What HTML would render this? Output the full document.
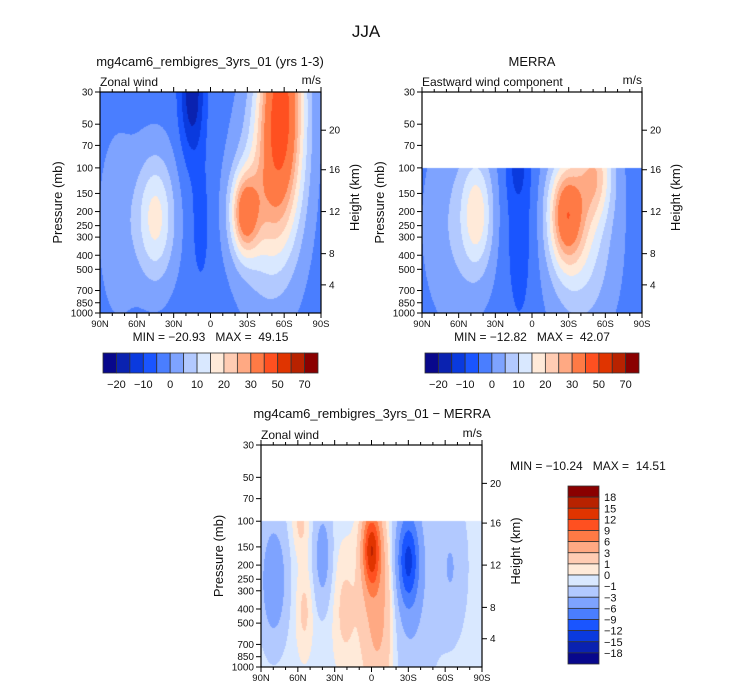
<!DOCTYPE html>
<html><head><meta charset="utf-8">
<style>
body{margin:0;background:#fff;}
#wrap{position:relative;width:732px;height:690px;overflow:hidden;font-family:"Liberation Sans",sans-serif;}
canvas{position:absolute;}
svg{position:absolute;left:0;top:0;}
text{font-family:"Liberation Sans",sans-serif;fill:#111;white-space:pre;}
</style></head>
<body>
<div id="wrap">
<canvas id="c1" style="left:100px;top:92px" width="221" height="221"></canvas>
<canvas id="c2" style="left:422px;top:92px" width="220" height="221"></canvas>
<canvas id="c3" style="left:261px;top:445px" width="221" height="222"></canvas>
<svg id="s" width="732" height="690"></svg>
</div>
<script>
// ---- data ----
const absLevels=[-20,-15,-10,-5,0,5,10,15,20,25,30,40,50,60,70];
const absLabels=["-20","-10","0","10","20","30","50","70"];
const diffLevels=[-18,-15,-12,-9,-6,-3,-1,0,1,3,6,9,12,15,18];
const palette=["#08088c","#0a22b0","#0a3ade","#1a55ff","#4a7eff","#7ea3ff","#b2c9ff","#d9e8ff","#ffead9","#ffccb3","#ffa983","#ff7a45","#ff5020","#e03400","#b82200","#8a0000"];
const presTicks=[30,50,70,100,150,200,250,300,400,500,700,850,1000];
const heightTicks=[20,16,12,8,4];
const heightPres=[55,103,200,390,640];
const latTicks=["90N","60N","30N","0","30S","60S","90S"];
// blobs: amplitude, lat(N+), log-p fraction center, lat sigma, z sigma
const modelBase=-2;
const modelAmp=[19,-17,-5,44,30,16,5];
const modelLat=[45,15,8,-58,-28,-45,75];
const modelZ=[0.57,0.0,0.6,0.05,0.55,0.5,0.6];
const modelSL=[11,7,6,13,8,17,12];
const modelSZ=[0.2,0.2,0.22,0.36,0.13,0.3,0.3];
const merraBase=-2;
const merraAmp=[17,7,-6,-6,30,20,15];
const merraLat=[45,62,10,12,-28,-52,-40];
const merraZ=[0.55,0.6,0.6,0.34,0.55,0.36,0.66];
const merraSL=[9,18,9,6,10,10,18];
const merraSZ=[0.18,0.3,0.35,0.1,0.16,0.15,0.28];
const diffBase=-0.5;
const diffAmp=[13,5,-10,-3,-4,-3,1.8,1.8,1.8,-2.5,-2.5];
const diffLat=[0,-6,-30,-30,40,80,58,55,22,80,-65];
const diffZ=[0.47,0.72,0.52,0.62,0.5,0.62,0.35,0.75,0.75,0.6,0.55];
const diffSL=[5,10,6,14,5,6,5,5,7,8,8];
const diffSZ=[0.12,0.3,0.14,0.35,0.15,0.15,0.1,0.15,0.2,0.2,0.2];
const minmax=["MIN = \u221220.93   MAX =  49.15","MIN = \u221212.82   MAX =  42.07","MIN = \u221210.24   MAX =  14.51"];

const LN=Math.log(1000/30);
function zf(p){return Math.log(p/30)/LN;}
function field(base,A,L,Z,SL,SZ,lat,z){let v=base;for(let i=0;i<A.length;i++){const a=(lat-L[i])/SL[i],b=(z-Z[i])/SZ[i];v+=A[i]*Math.exp(-0.5*(a*a+b*b));}return v;}
function bin(levels,v){let k=0;while(k<levels.length&&v>=levels[k])k++;return k;}
function hex(h){return [parseInt(h.slice(1,3),16),parseInt(h.slice(3,5),16),parseInt(h.slice(5,7),16)];}
const pal=palette.map(hex);
function draw(id,base,A,L,Z,SL,SZ,levels,zmin){
 const c=document.getElementById(id),ctx=c.getContext('2d'),w=c.width,h=c.height;
 const img=ctx.createImageData(w,h);
 for(let y=0;y<h;y++)for(let x=0;x<w;x++){
  const z=y/(h-1),lat=90-180*x/(w-1);const o=(y*w+x)*4;
  let col=[255,255,255];
  if(z>=zmin){col=pal[bin(levels,field(base,A,L,Z,SL,SZ,lat,z))];}
  img.data[o]=col[0];img.data[o+1]=col[1];img.data[o+2]=col[2];img.data[o+3]=255;}
 ctx.putImageData(img,0,0);
}
draw('c1',modelBase,modelAmp,modelLat,modelZ,modelSL,modelSZ,absLevels,0);
draw('c2',merraBase,merraAmp,merraLat,merraZ,merraSL,merraSZ,absLevels,zf(100));
draw('c3',diffBase,diffAmp,diffLat,diffZ,diffSL,diffSZ,diffLevels,zf(100));

const S=document.getElementById('s');const NS='http://www.w3.org/2000/svg';
function el(t,a,txt){const e=document.createElementNS(NS,t);for(const k in a)e.setAttribute(k,a[k]);if(txt!==undefined)e.textContent=txt;S.appendChild(e);return e;}
function txt(x,y,s,size,anchor,name){const e=el('text',{x:x,y:y,'font-size':size,'text-anchor':anchor||'start'},s);e.setAttribute('xml:space','preserve');


return e;}

function axes(x0,y0,w,h,left,mm,key){
 const g=el('rect',{x:x0,y:y0,width:w,height:h,fill:'none',stroke:'#000','stroke-width':1.2});
 
 
 presTicks.forEach(p=>{const y=y0+zf(p)*h;el('line',{x1:x0-5,x2:x0,y1:y,y2:y,stroke:'#000'});
  txt(x0-7,y+3.5,String(p),10,'end',key+'-pressure-tick-label');});
 heightTicks.forEach((k,i)=>{const y=y0+zf(heightPres[i])*h;el('line',{x1:x0+w,x2:x0+w+5,y1:y,y2:y,stroke:'#000'});
  txt(x0+w+8,y+3.5,String(k),10,'start',key+'-height-tick-label');});
 for(let i=0;i<=18;i++){const x=x0+w*i/18,len=i%3==0?5:3;
  el('line',{x1:x,x2:x,y1:y0+h,y2:y0+h+len,stroke:'#000'});el('line',{x1:x,x2:x,y1:y0,y2:y0-len,stroke:'#000'});}
 latTicks.forEach((s,i)=>txt(x0+w*i/6,y0+h+14,s,9.5,'middle',key+'-latitude-tick-label'));
 const t1=txt(0,0,'Pressure (mb)',13,'middle',key+'-y-axis-title');t1.setAttribute('transform',`translate(${x0-38},${y0+h/2}) rotate(-90)`);
 const t2=txt(0,0,'Height (km)',13,'middle',key+'-right-axis-title');t2.setAttribute('transform',`translate(${x0+w+38},${y0+h/2-5}) rotate(-90)`);
 txt(x0,y0-6,left,12,'start',key+'-variable-label');
 txt(x0+w,y0-8,'m/s',12,'end',key+'-units-label');
 if(mm)txt(x0+w/2,y0+h+28,mm,12,'middle',key+'-min-max');
}
function hbar(x0,y0,w,h,key){
 const n=palette.length,bw=w/n;
 palette.forEach((c,i)=>{const r=el('rect',{x:x0+i*bw,y:y0,width:bw,height:h,fill:c,stroke:'#333','stroke-width':0.8});
  
  });
 absLevels.forEach((lv,i)=>{if(i%2==0)txt(x0+(i+1)*bw,y0+h+15,absLabels[i/2].replace('-','\u2212'),11,'middle',key+'-colorbar-label');});
}
txt(366,37,'JJA',17,'middle','figure-title');
txt(210,66,'mg4cam6_rembigres_3yrs_01 (yrs 1-3)',13,'middle','model-panel-title');
txt(532,66,'MERRA',13,'middle','merra-panel-title');
txt(372,418,'mg4cam6_rembigres_3yrs_01 \u2212 MERRA',13,'middle','difference-panel-title');
axes(100,92,221,221,'Zonal wind',minmax[0],'model');
axes(422,92,220,221,'Eastward wind component',minmax[1],'merra');
axes(261,445,221,222,'Zonal wind',null,'difference');
hbar(103,353,215,20,'model');
hbar(425,353,214,20,'merra');
txt(510,470,minmax[2],12,'start','difference-min-max');
// vertical legend
(function(){const x0=568,y0=486,w=31,h=178,n=palette.length,bh=h/n;
 palette.slice().reverse().forEach((c,i)=>{const r=el('rect',{x:x0,y:y0+i*bh,width:w,height:bh,fill:c,stroke:'#333','stroke-width':0.8});
  
  });
 diffLevels.slice().reverse().forEach((lv,i)=>txt(x0+w+5,y0+(i+1)*bh+4,String(lv).replace('-','\u2212'),11,'start','difference-legend-label'));
})();
</script>
</body></html>
